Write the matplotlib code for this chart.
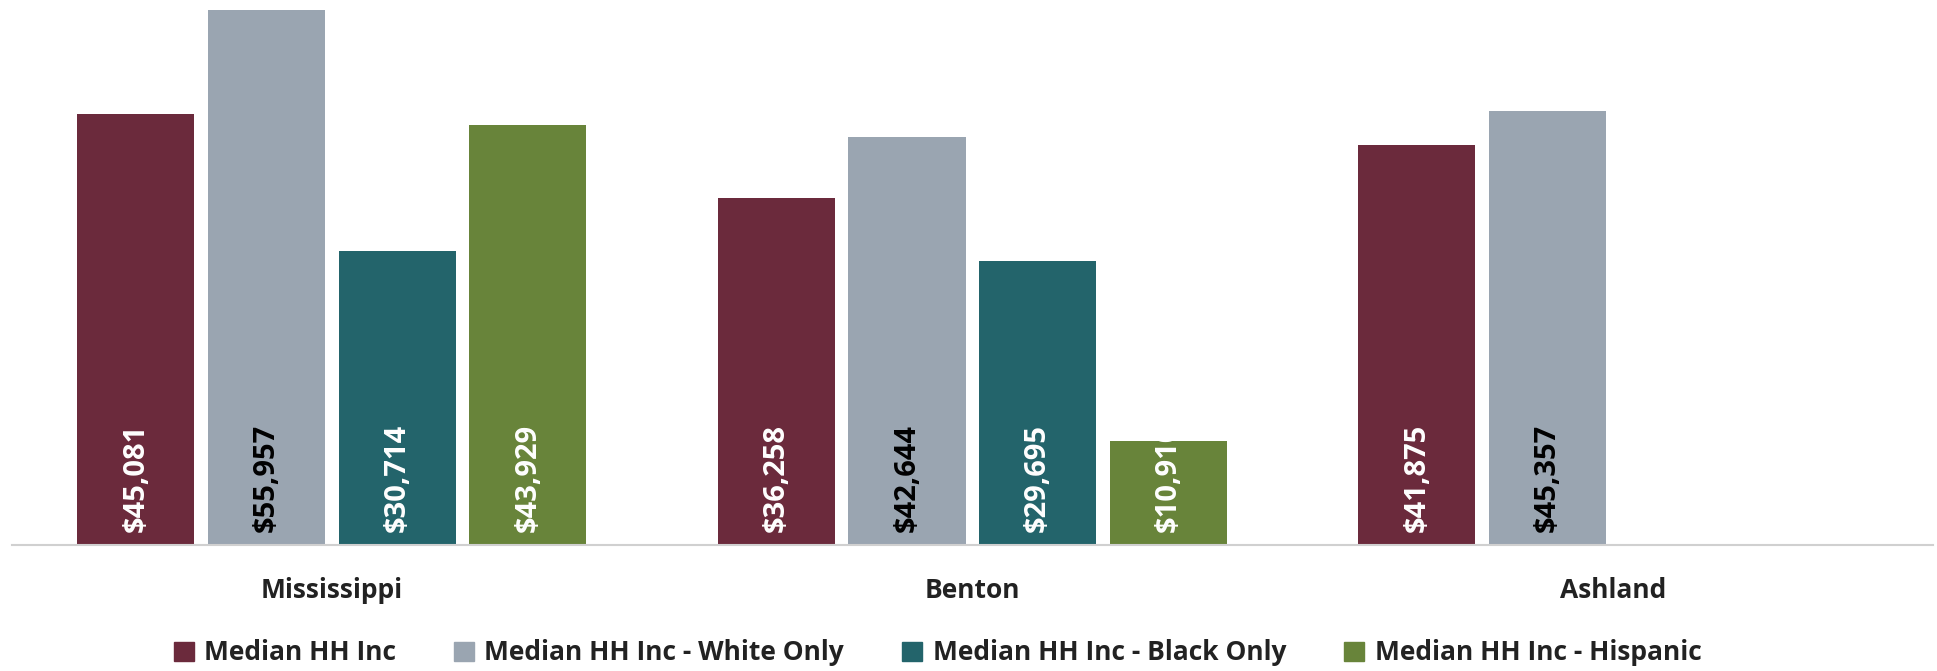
import numpy as np
import matplotlib.pyplot as plt
from matplotlib.patches import Patch

plt.rcParams['font.family'] = ['Open Sans', 'DejaVu Sans']

# data
places = ['Mississippi', 'Benton', 'Ashland']
series = ['Median HH Inc', 'Median HH Inc - White Only',
          'Median HH Inc - Black Only', 'Median HH Inc - Hispanic']
med_all = [45081, 36258, 41875]
med_white = [55957, 42644, 45357]
med_black = [30714, 29695, np.nan]
med_hisp = [43929, 10910, np.nan]

colors = ['#6B2A3C', '#9AA5B1', '#23646B', '#68843A']
txt_colors = ['white', 'black', 'white', 'white']

fig = plt.figure(figsize=(19.37, 6.71), dpi=100)
ax = fig.add_axes([0.006, 0.188, 0.992, 0.805])

x = np.arange(len(places))
slot = 0.204
bw = 0.183
allvals = [med_all, med_white, med_black, med_hisp]
for k, vals in enumerate(allvals):
    xs = x + (k - 1.5) * slot
    bars = ax.bar(xs, vals, width=bw, color=colors[k], zorder=2)
    for b, v in zip(bars, vals):
        if np.isnan(v):
            continue
        # label sits at the bar foot, cut off where the bar ends
        t = ax.annotate(f'${v:,.0f}', (b.get_x() + bw / 2, 0),
                        xytext=(0, 9), textcoords='offset points',
                        rotation=90, ha='center', va='bottom',
                        fontsize=21, fontweight='bold', color=txt_colors[k])
        t.set_clip_path(b)

ax.set_xlim(-0.5, 2.5)
ax.set_ylim(0, 56500)
ax.set_yticks([])
ax.set_xticks(x)
ax.set_xticklabels(places, fontsize=19, fontweight='bold', color='#222222')
ax.tick_params(axis='x', length=0, pad=23)
for s in ['top', 'right', 'left']:
    ax.spines[s].set_visible(False)
ax.spines['bottom'].set_color('#D0D0D0')
ax.spines['bottom'].set_linewidth(1.5)

handles = [Patch(color=c) for c in colors]
fig.legend(handles, series, loc='center', bbox_to_anchor=(0.484, 0.027),
           ncol=4, frameon=False, handlelength=0.75, handleheight=0.75,
           handletextpad=0.4, columnspacing=2.2,
           prop={'size': 19, 'weight': 'bold'}, labelcolor='#222222')

fig.savefig('out.png', dpi=100)
